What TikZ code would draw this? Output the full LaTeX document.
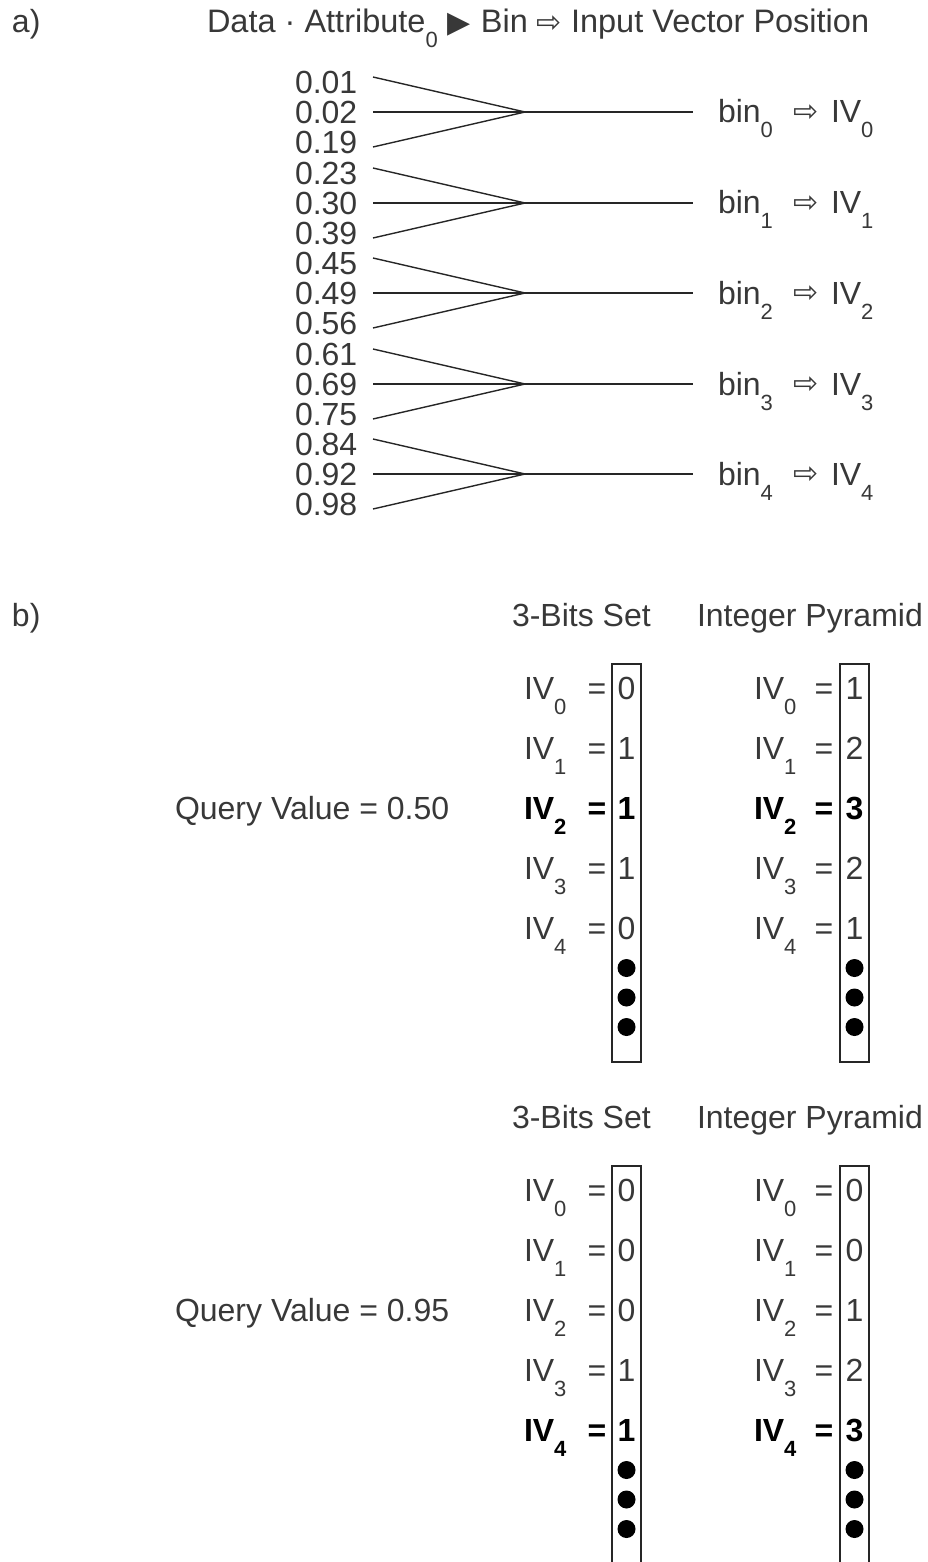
\documentclass[tikz,border=0pt]{standalone}
\usepackage{fontspec}
\setmainfont{Liberation Sans}
\newfontfamily\symfont{DejaVu Sans}
\definecolor{txt}{gray}{0.22}
\newcommand{\lsub}[1]{\raisebox{-15pt}{\fontsize{22}{22}\selectfont #1}}
\newcommand{\rarr}{{\symfont\fontsize{30}{30}\selectfont ⇨}}
\begin{document}
\begin{tikzpicture}[x=1pt,y=-1pt,
  every node/.style={inner sep=0pt, outer sep=0pt, font=\fontsize{32}{38}\selectfont, text=txt},
  conn/.style={line width=1.4pt, draw=black!85},
  rownorm/.style={},
  rowbold/.style={font=\fontsize{32}{38}\selectfont\bfseries, text=black},
  colbox/.style={draw=black!85, line width=1.4pt, minimum width=29pt, minimum height=398pt, anchor=north west},
  dot/.style={circle, fill=black, minimum size=18pt},
  lbl/.style={anchor=base west}
]
\useasboundingbox (0,0) rectangle (927,1562);
\clip (0,0) rectangle (927,1562);

% ---------- part a ----------
\node[lbl] (alab) at (12,33) {a)};
\node[lbl, font=\fontsize{32.5}{38}\selectfont] (title) at (207,33) {Data · Attribute\lsub{0}\hspace{10pt}{\symfont\fontsize{30}{30}\selectfont ▶}\hspace{10pt}Bin \rarr{} Input Vector Position};

\foreach \v [count=\i from 0] in {0.01,0.02,0.19,0.23,0.30,0.39,0.45,0.49,0.56,0.61,0.69,0.75,0.84,0.92,0.98}{
  \node[lbl] (n\i) at (295,{93.5+30.17*\i}) {\v};
}

\foreach \k in {0,...,4}{
  \pgfmathsetmacro\yc{round(112+90.5*\k)}
  \coordinate (c\k) at (525,\yc);
  \coordinate (u\k) at (373,\yc-35);
  \coordinate (m\k) at (373,\yc);
  \coordinate (l\k) at (373,\yc+35);
  \coordinate (e\k) at (693,\yc);
  \node[lbl] (bin\k) at (718,\yc+11) {bin\lsub{\k}};
  \node (arr\k) at (806,\yc+1) {\rarr};
  \node[lbl] (iv\k) at (831,\yc+11) {IV\lsub{\k}};
  \draw[conn] (u\k) -- (c\k);
  \draw[conn] (l\k) -- (c\k);
  \draw[conn] (m\k) -- (e\k);
}

% ---------- part b ----------
\node[lbl] (blab) at (12,626) {b)};

% section 1
\node[lbl] (hb0) at (512,626) {3-Bits Set};
\node[lbl] (hp0) at (697,626) {Integer Pyramid};
\node[lbl] (q0) at (175,819.5) {Query Value = 0.50};
\node[colbox] (bx0) at (612,664) {};
\node[colbox] (by0) at (840,664) {};
\foreach \r/\a/\b/\st in {0/0/1/rownorm,1/1/2/rownorm,2/1/3/rowbold,3/1/2/rownorm,4/0/1/rownorm}{
  \node[lbl,\st] (ia0\r) at (524,{699.5+60*\r}) {IV\lsub{\r}};
  \node[anchor=base,\st] (ea0\r) at (597,{699.5+60*\r}) {=};
  \node[anchor=base,\st] (va0\r) at (626.5,{699.5+60*\r}) {\a};
  \node[lbl,\st] (ib0\r) at (754,{699.5+60*\r}) {IV\lsub{\r}};
  \node[anchor=base,\st] (eb0\r) at (824,{699.5+60*\r}) {=};
  \node[anchor=base,\st] (vb0\r) at (854.5,{699.5+60*\r}) {\b};
}
\foreach \d in {0,1,2}{
  \node[dot] (da0\d) at (626.5,{968+29.5*\d}) {};
  \node[dot] (db0\d) at (854.5,{968+29.5*\d}) {};
}

% section 2
\node[lbl] (hb1) at (512,1128) {3-Bits Set};
\node[lbl] (hp1) at (697,1128) {Integer Pyramid};
\node[lbl] (q1) at (175,1321.5) {Query Value = 0.95};
\node[colbox] (bx1) at (612,1166) {};
\node[colbox] (by1) at (840,1166) {};
\foreach \r/\a/\b/\st in {0/0/0/rownorm,1/0/0/rownorm,2/0/1/rownorm,3/1/2/rownorm,4/1/3/rowbold}{
  \node[lbl,\st] (ia1\r) at (524,{1201.5+60*\r}) {IV\lsub{\r}};
  \node[anchor=base,\st] (ea1\r) at (597,{1201.5+60*\r}) {=};
  \node[anchor=base,\st] (va1\r) at (626.5,{1201.5+60*\r}) {\a};
  \node[lbl,\st] (ib1\r) at (754,{1201.5+60*\r}) {IV\lsub{\r}};
  \node[anchor=base,\st] (eb1\r) at (824,{1201.5+60*\r}) {=};
  \node[anchor=base,\st] (vb1\r) at (854.5,{1201.5+60*\r}) {\b};
}
\foreach \d in {0,1,2}{
  \node[dot] (da1\d) at (626.5,{1470+29.5*\d}) {};
  \node[dot] (db1\d) at (854.5,{1470+29.5*\d}) {};
}
\end{tikzpicture}
\end{document}
